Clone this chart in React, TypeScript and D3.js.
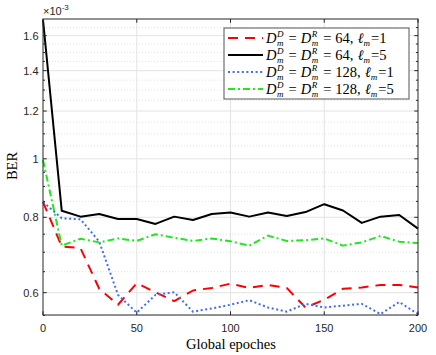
import React, { useEffect, useRef } from 'react';
import * as d3 from 'd3';

// epochs sampled every 10
const epochs = [0, 10, 20, 30, 40, 50, 60, 70, 80, 90, 100, 110, 120, 130, 140, 150, 160, 170, 180, 190, 200];

// BER values (x 1e-3)
const ber64L1 = [0.848, 0.716, 0.711, 0.609, 0.573, 0.622, 0.601, 0.581, 0.605, 0.611, 0.621, 0.611, 0.618, 0.611, 0.567, 0.584, 0.609, 0.612, 0.618, 0.618, 0.612];
const ber64L5 = [1.70, 0.820, 0.802, 0.810, 0.795, 0.795, 0.780, 0.802, 0.792, 0.810, 0.815, 0.802, 0.815, 0.804, 0.816, 0.841, 0.821, 0.783, 0.802, 0.807, 0.766];
const ber128L1 = [0.848, 0.797, 0.794, 0.729, 0.595, 0.556, 0.595, 0.601, 0.558, 0.565, 0.573, 0.583, 0.567, 0.558, 0.575, 0.567, 0.571, 0.575, 0.553, 0.579, 0.553];
const ber128L5 = [0.995, 0.718, 0.737, 0.727, 0.738, 0.731, 0.750, 0.740, 0.731, 0.738, 0.730, 0.718, 0.746, 0.731, 0.733, 0.738, 0.718, 0.727, 0.745, 0.729, 0.725];

const xTicks = [0, 50, 100, 150, 200];
const yTicks = [0.6, 0.8, 1, 1.2, 1.4, 1.6];
const yMinor = [0.55, 0.65, 0.7, 0.75, 0.85, 0.9, 0.95, 1.05, 1.1, 1.15, 1.25, 1.3, 1.35, 1.45, 1.5, 1.55, 1.65];

const seriesDims = ['64', '64', '128', '128'];
const seriesEll = ['1', '5', '1', '5'];

const series = [
  { values: ber64L1, color: '#ff0000', dash: '10,7' },
  { values: ber64L5, color: '#000000', dash: null },
  { values: ber128L1, color: '#3f6bff', dash: '2,2.6' },
  { values: ber128L5, color: '#1ee81e', dash: '7,3,2,3' },
];

const BerChart = () => {
  const ref = useRef<SVGSVGElement | null>(null);

  useEffect(() => {
    const svg = d3.select(ref.current);
    svg.selectAll('*').remove();

    const left = 43, right = 418, top = 19, bottom = 315;
    const axisColor = '#262626';
    const sans = 'Liberation Sans, Arial, sans-serif';
    const serif = 'Liberation Serif, Times New Roman, serif';

    const x = d3.scaleLinear().domain([0, 200]).range([left, right]);
    const y = d3.scaleLog().domain([0.551, 1.705]).range([bottom, top]);

    svg.append('rect').attr('width', 436).attr('height', 355).attr('fill', '#fff');

    // grid
    const grid = svg.append('g');
    grid.selectAll('.ym').data(yMinor).join('line')
      .attr('x1', left).attr('x2', right)
      .attr('y1', d => y(d)).attr('y2', d => y(d))
      .attr('stroke', '#cfcfcf').attr('stroke-width', 0.6).attr('stroke-dasharray', '1,2');
    grid.selectAll('.yg').data(yTicks).join('line')
      .attr('x1', left).attr('x2', right)
      .attr('y1', d => y(d)).attr('y2', d => y(d))
      .attr('stroke', '#e3e3e3').attr('stroke-width', 1);
    grid.selectAll('.xg').data(xTicks.slice(1, -1)).join('line')
      .attr('x1', d => x(d)).attr('x2', d => x(d))
      .attr('y1', top).attr('y2', bottom)
      .attr('stroke', '#e3e3e3').attr('stroke-width', 1);

    // lines
    const plot = svg.append('g');
    series.forEach(s => {
      const line = d3.line<number>()
        .x((_, i) => x(epochs[i]))
        .y(d => y(d));
      plot.append('path')
        .attr('d', line(s.values))
        .attr('fill', 'none')
        .attr('stroke', s.color)
        .attr('stroke-width', 2)
        .attr('stroke-dasharray', s.dash)
        .attr('stroke-linejoin', 'round');
    });

    // box and ticks
    const ax = svg.append('g').attr('stroke', axisColor).attr('stroke-width', 1);
    ax.append('rect').attr('x', left).attr('y', top)
      .attr('width', right - left).attr('height', bottom - top).attr('fill', 'none');
    const tl = 3.75;
    xTicks.forEach(t => {
      ax.append('line').attr('x1', x(t)).attr('x2', x(t)).attr('y1', bottom).attr('y2', bottom - tl);
      ax.append('line').attr('x1', x(t)).attr('x2', x(t)).attr('y1', top).attr('y2', top + tl);
    });
    yTicks.forEach(t => {
      ax.append('line').attr('x1', left).attr('x2', left + tl).attr('y1', y(t)).attr('y2', y(t));
      ax.append('line').attr('x1', right).attr('x2', right - tl).attr('y1', y(t)).attr('y2', y(t));
    });
    yMinor.forEach(t => {
      ax.append('line').attr('x1', left).attr('x2', left + 2).attr('y1', y(t)).attr('y2', y(t));
      ax.append('line').attr('x1', right).attr('x2', right - 2).attr('y1', y(t)).attr('y2', y(t));
    });

    // tick labels
    svg.append('g').selectAll('text').data(xTicks).join('text')
      .attr('x', d => x(d)).attr('y', 332)
      .attr('text-anchor', 'middle')
      .attr('font-family', sans).attr('font-size', 11).attr('fill', axisColor)
      .text(d => d3.format('d')(d));
    svg.append('g').selectAll('text').data(yTicks).join('text')
      .attr('x', 38.5).attr('y', d => y(d) + 4)
      .attr('text-anchor', 'end')
      .attr('font-family', sans).attr('font-size', 11).attr('fill', axisColor)
      .text(d => (d === 1 ? '1' : d3.format('.1f')(d)));

    const exp = svg.append('text').attr('x', 43).attr('y', 15)
      .attr('font-family', sans).attr('font-size', 11).attr('fill', axisColor);
    exp.append('tspan').text('\u00d710');
    exp.append('tspan').attr('dy', -5).attr('font-size', 8).text('-3');

    // axis labels
    svg.append('text').attr('x', 231).attr('y', 349)
      .attr('text-anchor', 'middle')
      .attr('font-family', serif).attr('font-size', 14.5).attr('fill', '#000')
      .text('Global epoches');
    svg.append('text')
      .attr('transform', 'translate(17,166) rotate(-90)')
      .attr('text-anchor', 'middle')
      .attr('font-family', serif).attr('font-size', 14.5).attr('fill', '#000')
      .text('BER');

    // legend
    const lg = svg.append('g');
    lg.append('rect').attr('x', 224).attr('y', 28).attr('width', 185).attr('height', 71)
      .attr('fill', '#fff').attr('stroke', '#555').attr('stroke-width', 1);
    const rowY = [38, 55, 72, 89];
    const fs = 14.5;
    series.forEach((s, i) => {
      const cy = rowY[i];
      lg.append('line').attr('x1', 228).attr('x2', 263).attr('y1', cy).attr('y2', cy)
        .attr('stroke', s.color).attr('stroke-width', 2).attr('stroke-dasharray', s.dash);
      const row = lg.append('g');
      let cx = 266;
      const base = cy + 4.5;
      const put = (t: string, opts: { italic?: boolean; size?: number; dy?: number }) => {
        const el = row.append('text').attr('x', cx).attr('y', base + (opts.dy || 0))
          .attr('font-family', serif).attr('font-size', opts.size || fs)
          .attr('font-style', opts.italic ? 'italic' : 'normal')
          .attr('fill', '#000')
          .style('white-space', 'pre')
          .text(t);
        return (el.node() as SVGTextElement).getComputedTextLength();
      };
      const supSub = (sup: string | null, sub: string) => {
        let w = 0;
        if (sup) w = Math.max(w, put(sup, { italic: true, size: 9, dy: -5.5 }));
        w = Math.max(w, put(sub, { italic: true, size: 9, dy: 3 }));
        cx += w + 1;
      };
      const eq = () => {
        cx += 4;
        cx += put('=', {});
        cx += 4;
      };
      cx += put('D', { italic: true }) + 0.5;
      supSub('D', 'm');
      eq();
      cx += put('D', { italic: true }) + 0.5;
      supSub('R', 'm');
      eq();
      cx += put(`${seriesDims[i]},`, {}) + 4;
      cx += put('\u2113', { italic: true });
      supSub(null, 'm');
      cx += put(`=${seriesEll[i]}`, {});
    });
  }, []);

  return (
    <svg
      ref={ref}
      width={436}
      height={355}
      style={{ position: 'absolute', left: 0, top: 0, display: 'block' }}
    />
  );
};

export default function App() {
  return <BerChart />;
}
